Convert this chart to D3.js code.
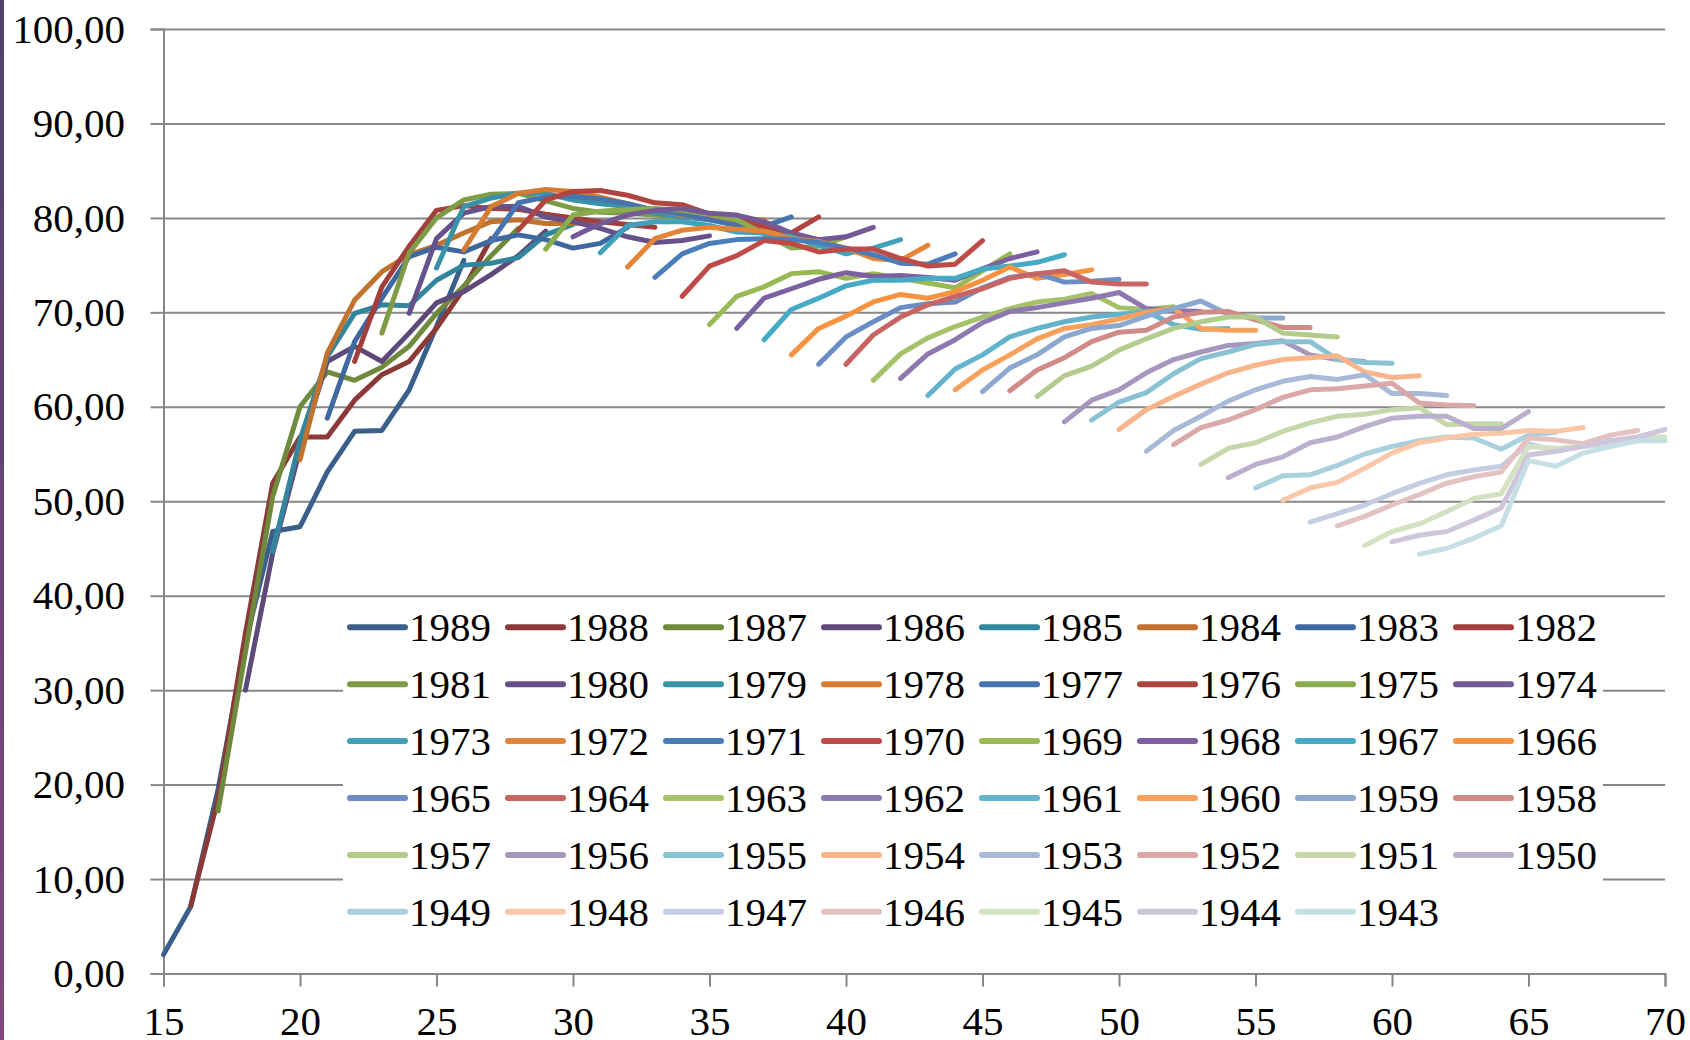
<!DOCTYPE html>
<html><head><meta charset="utf-8">
<script src="https://cdn.jsdelivr.net/npm/d3@7"></script>
<style>html,body{margin:0;padding:0;background:#fff;} svg{display:block;}</style>
</head><body><svg id="c" width="1690" height="1040"></svg>
<script>
const cohorts = [1989,1988,1987,1986,1985,1984,1983,1982,1981,1980,1979,1978,1977,1976,1975,1974,1973,1972,1971,1970,1969,1968,1967,1966,1965,1964,1963,1962,1961,1960,1959,1958,1957,1956,1955,1954,1953,1952,1951,1950,1949,1948,1947,1946,1945,1944,1943];
const firstAge = [15,16,17,18,19,20,21,22,23,24,25,26,27,28,29,30,31,32,33,34,35,36,37,38,39,40,41,42,43,44,45,46,47,48,49,50,51,52,53,54,55,56,57,58,59,60,61];
const seriesValues = [
 [2.0,7.1,19.5,35.0,46.8,47.3,53.1,57.4,57.5,61.8,68.5,75.5],
 [7.2,18.5,36.0,51.9,56.8,56.8,60.7,63.4,64.8,68.3,72.5,77.8],
 [17.2,34.0,50.5,60.0,63.7,62.8,64.2,66.4,69.9,72.8,76.0,78.9],
 [30.0,44.5,55.5,64.8,66.4,64.8,67.8,71.0,72.2,74.0,76.0,78.6],
 [44.7,56.5,65.3,69.9,70.8,70.7,73.4,75.0,75.2,75.8,78.2,79.3],
 [54.4,65.7,71.3,74.3,76.1,77.1,78.4,79.6,79.8,79.4,79.4,79.6],
 [58.8,66.9,71.5,75.9,76.9,76.4,77.6,78.2,77.7,76.8,77.3,79.0],
 [64.8,72.7,77.0,80.8,81.3,81.0,80.9,80.4,80.0,79.6,79.3,79.0],
 [67.8,76.3,80.0,81.9,82.5,82.6,81.8,81.0,80.6,80.5,80.3,80.0],
 [69.9,77.8,80.5,81.2,81.2,80.1,79.6,78.9,78.0,77.4,77.6,78.1],
 [74.7,81.2,82.1,82.6,82.6,81.9,81.5,81.2,80.5,80.1,79.8,79.4],
 [76.6,81.2,82.6,83.0,82.8,82.2,81.5,80.8,80.3,79.9,79.8,79.8],
 [77.5,81.6,82.2,82.3,82.0,81.5,80.8,80.4,79.8,79.2,79.1,80.1],
 [78.7,81.9,82.8,82.9,82.4,81.6,81.4,80.4,79.9,79.1,78.4,80.1],
 [76.7,80.3,80.7,80.9,81.0,80.8,80.4,79.8,78.3,76.8,77.0,78.0],
 [78.0,79.4,80.3,80.8,81.0,80.5,80.3,79.6,78.4,77.7,78.0,79.0],
 [76.3,79.2,79.6,79.6,79.2,78.5,78.4,78.0,77.1,76.2,76.8,77.7],
 [74.8,77.8,78.7,79.0,78.8,78.6,77.8,77.5,76.8,75.7,75.5,77.1],
 [73.7,76.2,77.3,77.7,77.8,77.7,77.4,76.8,76.1,75.2,75.1,76.2],
 [71.7,74.9,76.0,77.6,77.3,76.4,76.7,76.7,75.7,74.9,75.1,77.6],
 [68.7,71.7,72.7,74.1,74.3,73.6,74.1,73.6,73.1,72.6,74.4,76.2],
 [68.3,71.5,72.5,73.5,74.2,73.8,73.9,73.7,73.4,74.6,75.7,76.4],
 [67.1,70.3,71.5,72.8,73.4,73.4,73.6,73.6,74.6,74.9,75.3,76.1],
 [65.5,68.3,69.6,71.1,71.9,71.5,72.2,73.4,74.8,73.6,74.0,74.5],
 [64.5,67.4,69.0,70.5,70.9,71.1,72.6,73.7,74.1,73.2,73.3,73.5],
 [64.5,67.6,69.5,70.8,71.7,72.5,73.6,74.1,74.4,73.2,73.0,73.0],
 [62.8,65.6,67.3,68.5,69.5,70.4,71.1,71.4,72.0,70.5,70.3,70.6],
 [63.0,65.6,67.1,68.9,70.1,70.5,71.0,71.5,72.1,70.4,70.2,70.1],
 [61.2,64.0,65.5,67.4,68.3,69.0,69.5,69.8,70.1,68.7,68.2,68.3],
 [61.8,63.9,65.5,67.2,68.3,68.7,69.3,70.0,70.4,68.3,68.1,68.1],
 [61.6,64.1,65.5,67.4,68.3,68.6,69.6,70.4,71.2,69.8,69.4,69.4],
 [61.7,63.9,65.2,66.9,67.9,68.1,69.5,70.0,70.1,69.2,68.4,68.4],
 [61.1,63.3,64.3,66.0,67.2,68.3,69.0,69.5,69.5,67.8,67.6,67.4],
 [58.4,60.7,61.8,63.6,65.0,65.8,66.5,66.7,67.0,65.5,65.0,64.8],
 [58.6,60.5,61.5,63.5,65.1,65.8,66.6,66.9,66.9,65.0,64.7,64.6],
 [57.6,59.7,61.1,62.4,63.6,64.4,65.0,65.2,65.4,63.7,63.1,63.3],
 [55.3,57.5,59.0,60.6,61.8,62.7,63.2,62.9,63.4,61.4,61.4,61.2],
 [56.0,57.8,58.6,59.7,61.0,61.8,61.9,62.2,62.5,60.4,60.2,60.1],
 [53.9,55.6,56.2,57.4,58.3,59.0,59.2,59.7,59.9,58.1,58.2,58.2],
 [52.5,53.9,54.7,56.2,56.8,57.9,58.8,59.0,59.0,57.7,57.7,59.5],
 [51.4,52.7,52.8,53.8,55.0,55.8,56.4,56.8,56.7,55.5,57.0,57.3],
 [50.1,51.4,52.0,53.5,55.1,56.2,56.7,57.1,57.2,57.5,57.4,57.8],
 [47.8,48.7,49.6,50.8,51.9,52.8,53.3,53.7,56.1,55.3,55.9,56.5],
 [47.4,48.4,49.6,50.7,51.9,52.6,53.1,56.7,56.5,56.1,57.0,57.5],
 [45.3,46.8,47.6,48.9,50.3,50.8,55.8,55.6,55.8,56.1,56.7,56.8],
 [45.7,46.4,46.8,48.0,49.3,54.9,55.3,55.8,56.4,56.8,57.6],
 [44.4,45.0,46.1,47.4,54.3,53.7,55.1,55.8,56.4,56.4]
];
const ageTicks = [15,20,25,30,35,40,45,50,55,60,65,70];
const valueTicks = [0,10,20,30,40,50,60,70,80,90,100];
const palette = [
 '#3A5F8B','#8B3A38','#6F8A3C','#5D4A7A','#31859C','#C0732E',
 '#4068A0','#A13F3C','#7E9C45','#66518A','#3A92A8','#D57B34',
 '#4674AE','#B0443F','#8AAB4E','#735A96','#42A0B8','#E38438',
 '#4A7EBB','#BE4B48','#98B954','#7D60A0','#46AAC5','#F69240',
 '#6A8DC5','#C86562','#A5C26B','#8E78B0','#62B3CB','#F8A15D',
 '#8CA7D0','#D08A88','#B3CB8C','#A597BE','#8AC2D3','#F8B48A',
 '#A9B9D8','#D9A8A7','#C6D7AC','#BAAFCC','#A9D0DC','#F9C6A8',
 '#C5CDE3','#E3C2C1','#D5E1C3','#CEC6DA','#C6DEE6'
];

const FONT = '"Liberation Serif","Times New Roman",serif';
const svg = d3.select('#c');
const x = d3.scaleLinear().domain([15,70]).range([163.5,1665]);
const y = d3.scaleLinear().domain([0,100]).range([973.5,29]);
const fmt = d => d3.format('.2f')(d).replace('.', ',');

// left decorative strip
const defs = svg.append('defs');
const gr = defs.append('linearGradient').attr('id','strip').attr('x1',0).attr('y1',0).attr('x2',0).attr('y2',1);
gr.append('stop').attr('offset','0%').attr('stop-color','#50416E');
gr.append('stop').attr('offset','100%').attr('stop-color','#80487A');
svg.append('rect').attr('x',0).attr('y',0).attr('width',4).attr('height',1040).attr('fill','url(#strip)');

// gridlines
svg.append('g').attr('transform',`translate(${x(15)},0)`)
  .call(d3.axisLeft(y).tickValues(valueTicks).tickSize(-(x(70)-x(15))).tickFormat(''))
  .call(g=>g.select('.domain').remove())
  .call(g=>g.selectAll('line').attr('stroke','#878787').attr('stroke-width',2));

// y axis
svg.append('g').attr('transform',`translate(${x(15)},0)`)
  .call(d3.axisLeft(y).tickValues(valueTicks).tickSize(13).tickPadding(25.5).tickFormat(fmt))
  .call(g=>g.select('.domain').attr('stroke','#878787').attr('stroke-width',2))
  .call(g=>g.selectAll('line').attr('stroke','#878787').attr('stroke-width',2))
  .call(g=>g.selectAll('text').attr('font-family',FONT).attr('font-size',41).attr('fill','#000'));

// x axis
svg.append('g').attr('transform',`translate(0,${y(0)})`)
  .call(d3.axisBottom(x).tickValues(ageTicks).tickSize(13).tickPadding(19).tickFormat(d3.format('d')))
  .call(g=>g.select('.domain').attr('stroke','#878787').attr('stroke-width',2))
  .call(g=>g.selectAll('line').attr('stroke','#878787').attr('stroke-width',2))
  .call(g=>g.selectAll('text').attr('font-family',FONT).attr('font-size',41).attr('fill','#000'));

// series lines
const line = d3.line().x(d=>x(d.a)).y(d=>y(d.v));
const series = cohorts.map((c,i)=>({c, color: palette[i], pts: seriesValues[i].map((v,k)=>({a:firstAge[i]+k, v}))}));
svg.append('g').selectAll('path').data(series).join('path')
  .attr('d', d=>line(d.pts)).attr('fill','none').attr('stroke',d=>d.color)
  .attr('stroke-width',5).attr('stroke-linejoin','round').attr('stroke-linecap','round');

// legend
const lg = svg.append('g');
lg.append('rect').attr('x',343).attr('y',599).attr('width',1260).attr('height',346).attr('fill','#fff');
const items = lg.selectAll('g.item').data(series).join('g').attr('class','item')
  .attr('transform',(d,i)=>`translate(${350 + (i%8)*158},${627.3 + Math.floor(i/8)*56.9})`);
items.append('line').attr('x1',0).attr('x2',55).attr('y1',0).attr('y2',0)
  .attr('stroke',d=>d.color).attr('stroke-width',6).attr('stroke-linecap','round');
items.append('text').attr('x',59).attr('y',14).attr('font-family',FONT).attr('font-size',41)
  .attr('fill','#000').text(d=>d.c);
</script></body></html>
